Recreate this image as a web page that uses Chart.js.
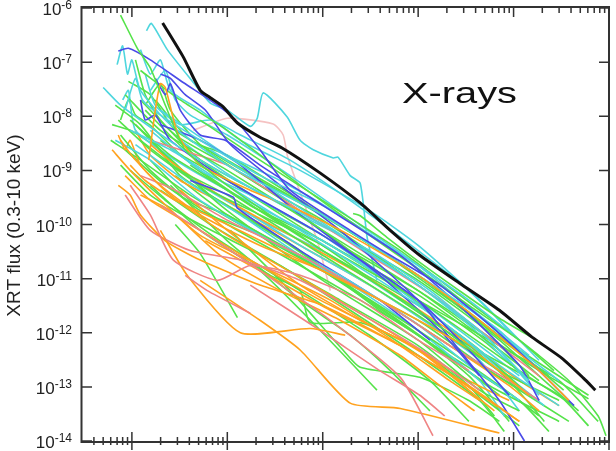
<!DOCTYPE html>
<html>
<head>
<meta charset="utf-8">
<script src="https://cdn.jsdelivr.net/npm/chart.js@4.4.1/dist/chart.umd.min.js"></script>
<style>
  html, body { margin: 0; padding: 0; background: #fff; }
  canvas { display: block; }
</style>
</head>
<body>
<canvas id="chart" width="616" height="451"></canvas>
<script>
// time (s) / flux (erg cm-2 s-1) pairs
const xMin = 30, xMax = 1e7;
const yMin = 1e-14, yMax = 1e-6;
const xMajorTicks = [1e2, 1e3, 1e4, 1e5, 1e6, 1e7];
const xMinorDecades = [10, 1e2, 1e3, 1e4, 1e5, 1e6];
const yTickExponents = [-6, -7, -8, -9, -10, -11, -12, -13, -14];
const minorSteps = [2, 3, 4, 5, 6, 7, 8, 9];
const yTitle = 'XRT flux (0.3-10 keV)';
const bandLabel = 'X-rays';

const blackCurve = [[210,5.3e-7],[345,1.25e-7],[520,3e-8],[663,2.2e-8],[900,1.5e-8],[1277,7.5e-9],[2200,4.1e-9],[3750,2.6e-9],[9430,8.9e-10],[2.47e4,2.5e-10],[5.1e4,7.8e-11],[1.04e5,2.7e-11],[2.7e5,8.3e-12],[7.1e5,2.6e-12],[1.56e6,8.3e-13],[3.2e6,3.4e-13],[5.4e6,1.45e-13],[7.2e6,8.7e-14]];

const cyanFlare = [[142,3.8e-7],[160,5.2e-7],[235,1.7e-7],[440,4.2e-8],[663,1.75e-8],[1000,1.3e-8],[1740,6.5e-9],[2060,9.2e-9],[2380,2.7e-8],[4240,9.7e-9],[5800,3.6e-9],[7950,2.4e-9],[1.29e4,1.7e-9],[1.45e4,1.75e-9],[1.94e4,8e-10],[2.47e4,5.8e-10],[2.92e4,5.8e-11],[3.7e4,9.3e-12]];

const pinkFlare = [[440,5.5e-9],[1000,9.2e-9],[3020,7.2e-9],[3850,4.5e-9],[4300,1.75e-9],[8750,5e-11],[1.2e4,6e-12]];

const greenCurves = [
  [[76,7.4e-7],[114,1.8e-7],[156,7.8e-8],[224,1.6e-8],[362,2.4e-9],[1000,5.3e-10],[1e4,3.3e-11],[1e5,2.6e-12],[4.9e5,3.1e-13]],
  [[2.08e4,1.6e-10],[2.47e4,1.45e-10],[4.7e4,5.8e-11],[1.04e5,2e-11],[2.7e5,6e-12],[7.1e5,1.85e-12],[1.98e6,6.4e-13]],
  [[123,7e-8],[321,2e-8],[1000,5.5e-9],[5800,5.3e-10],[3.1e4,6.3e-11],[1e5,1.5e-11],[3.4e5,3.2e-12],[1.15e6,7.3e-13],[3.8e6,1.3e-13],[7.7e6,2.9e-14],[9.3e6,1.25e-14]],
  [[520,8.5e-9],[2200,1.55e-9],[1.2e4,2.25e-10],[6.5e4,3.3e-11],[2.7e5,5e-12],[1.15e6,7.3e-13],[2.65e6,2e-13]],
  [[85,2.5e-8],[199,5.5e-9],[1000,1e-9],[1e4,7.8e-11],[1e5,6e-12],[7.1e5,4.8e-13],[1.85e6,1.3e-13]],
  [[96,8.5e-9],[253,1.9e-9],[1000,4.3e-10],[1e4,3.3e-11],[1e5,3.2e-12],[4.4e5,4.8e-13],[1.45e6,7e-14]],
  [[123,3.6e-9],[321,1e-9],[1000,3.5e-10],[1e4,2.7e-11],[1e5,2.1e-12],[7.1e5,2e-13],[3e6,5.6e-14]],
  [[72,8.5e-9],[156,2.4e-9],[520,5.3e-10],[2200,1.5e-10],[1e4,4.1e-11],[1e5,4e-12],[1.15e6,2e-13],[4.3e6,4.5e-14]],
  [[76,4.5e-9],[156,1e-9],[520,1.8e-10],[2200,6.3e-11],[1e4,1.4e-11],[1e5,1.1e-12],[7.1e5,1.05e-13],[1.85e6,2.9e-14]],
  [[109,7e-9],[253,1.55e-9],[1000,1.8e-10],[1e4,9.3e-12],[1e5,7.3e-13],[4.4e5,8.7e-14],[1.15e6,3.6e-14]],
  [[138,1.3e-8],[362,2.4e-9],[1000,8e-10],[5800,1.5e-10],[3.1e4,1.75e-11],[1.69e5,1.7e-12],[9e5,1.3e-13],[2.1e6,2.3e-14]],
  [[199,3.6e-9],[520,1e-9],[2200,1.8e-10],[1e4,4.1e-11],[6.5e4,4e-12],[3.4e5,5.8e-13],[3e6,7e-14],[6.1e6,1.9e-14]],
  [[67,1.6e-8],[123,7e-9],[321,8e-10],[1000,2.25e-10],[5800,3.3e-11],[3.96e4,2.6e-12],[2.14e5,3.8e-13],[1.15e6,5.6e-14],[2.35e6,1.5e-14]],
  [[156,1.55e-9],[409,2.8e-10],[1000,1.5e-10],[1e4,1.4e-11],[1e5,9e-13],[3.4e5,1.6e-13],[9e5,2.3e-14]],
  [[85,2.4e-9],[224,5.3e-10],[1000,1e-10],[5800,1.75e-11],[2.47e4,4e-12],[1e5,9e-13],[5.6e5,1.05e-13],[3e6,2.3e-14]],
  [[253,5.3e-10],[1000,5e-11],[5800,4e-12],[1.94e4,9e-13],[5.1e4,2e-13],[1.33e5,3.6e-14]],
  [[285,1e-10],[520,2.9e-11],[1277,1.9e-12]],
  [[156,5.3e-10],[520,7.8e-11],[2200,1.4e-11],[9430,1.1e-12],[3.7e4,8.7e-14]],
  [[1075,3.3e-11],[2820,1.15e-11],[5800,6e-12],[7390,1.55e-12],[2.47e4,1.55e-12],[1.04e5,4.8e-13],[4.4e5,7e-14],[1.15e6,1.9e-14]],
  [[1075,7.8e-11],[4550,6e-12],[1.63e4,4.8e-13],[2.47e4,2.3e-13],[1.04e5,1.5e-13],[3.4e5,5.6e-14],[7.1e5,2.3e-14]],
  [[92,4.4e-8],[156,2.5e-8],[285,5.5e-9],[1000,1.55e-9],[1e4,1.5e-10],[1e5,1.15e-11],[4.4e5,1.7e-12],[1.45e6,3.1e-13],[3.35e6,8.7e-14]],
  [[123,2e-8],[285,4.5e-9],[1000,1.25e-9],[1e4,9.8e-11],[1e5,9.3e-12],[7.1e5,7.3e-13],[2.1e6,1.3e-13],[4.8e6,3.6e-14]],
  [[176,2e-8],[409,3.6e-9],[1000,1.9e-9],[5800,2.8e-10],[3.96e4,3.3e-11],[2.14e5,4e-12],[1.15e6,4.8e-13],[6.1e6,7e-14]],
  [[60,3.6e-9],[123,1.55e-9],[409,3.5e-10],[1740,7.8e-11],[1e4,1.4e-11],[1e5,1.7e-12],[5.6e5,2e-13],[1.85e6,5.6e-14]],
  [[199,4.3e-10],[663,1e-10],[3580,1.75e-11],[1.94e4,2.6e-12],[1e5,3.8e-13],[4.4e5,5.6e-14],[8e5,1.5e-14]],
  [[96,1e-9],[224,2.8e-10],[840,5e-11],[5800,6e-12],[3.1e4,9e-13],[1.33e5,1.3e-13],[3.4e5,2.3e-14]],
  [[409,1.25e-9],[1740,2.25e-10],[1e4,5e-11],[1e5,4e-12],[7.1e5,5.8e-13],[3e6,1.3e-13],[7.7e6,2.3e-14]],
  [[588,2.4e-9],[2200,5.3e-10],[1e4,1.2e-10],[1e5,7.6e-12],[4.4e5,1.1e-12],[1.85e6,2e-13],[6.1e6,6e-14]],
  [[76,1.25e-9],[156,3.5e-10],[520,1e-10],[2820,2.2e-11],[1.52e4,4e-12],[1e5,5.8e-13],[3.4e5,1.05e-13],[6.3e5,2.9e-14]],
  [[109,1.1e-7],[138,2.5e-8],[199,8.5e-9],[520,1.55e-9],[2200,2.8e-10],[1e4,6.3e-11],[1e5,6e-12],[7.1e5,5.8e-13],[1.45e6,1.6e-13]],
  [[62,7e-9],[96,5.5e-9],[199,2.4e-9],[663,3.5e-10],[4550,4.1e-11],[3.1e4,4e-12],[1.69e5,4.8e-13],[7.1e5,7e-14]],
  [[285,8e-10],[1000,1.5e-10],[5800,2.7e-11],[3.96e4,4e-12],[2.14e5,5.8e-13],[1.15e6,8.7e-14],[3.8e6,2.3e-14]],
  [[76,8.5e-9],[92,2e-8],[109,1.05e-8],[156,6.8e-9],[321,2e-9],[1000,6.5e-10],[1e4,5e-11],[1e5,5e-12],[5.6e5,5.8e-13],[1.45e6,1.3e-13]],
  [[138,1.6e-8],[199,4e-8],[253,1.3e-8],[520,3e-9],[2200,6.5e-10],[1.2e4,1.2e-10],[1e5,1.15e-11],[5.6e5,1.1e-12],[2.35e6,1.6e-13]]
];

const cyanCurves = [
  [[50,3.4e-8],[76,1.6e-8],[123,8.5e-9],[285,3e-9],[1000,8e-10],[1e4,9.8e-11],[1e5,7.6e-12],[4.4e5,1.1e-12],[1.45e6,1.3e-13]],
  [[70,9e-8],[80,2e-7],[90,6e-8],[100,1.1e-7],[123,3e-8],[253,7e-9],[1000,1.25e-9],[1e4,1.5e-10],[1e5,1.15e-11],[7.1e5,1.1e-12],[1.85e6,2e-13]],
  [[85,1.3e-8],[109,5e-8],[129,2e-8],[199,1.05e-8],[520,3.6e-9],[2200,8e-10],[1e4,2.25e-10],[1e5,1.75e-11],[3.4e5,4e-12],[1.15e6,7.3e-13]],
  [[123,1.7e-7],[156,6e-8],[199,1.1e-7],[253,3e-8],[520,1.3e-8],[1370,3.6e-9],[5800,1e-9],[3.1e4,1.8e-10],[1e5,4.1e-11],[4.4e5,4e-12],[1.85e6,3.1e-13]],
  [[96,5.5e-9],[253,2.4e-9],[1000,5.3e-10],[5800,7.8e-11],[3.96e4,9.3e-12],[1.69e5,1.7e-12],[7.1e5,2.5e-13],[3e6,4.5e-14]],
  [[67,3.6e-9],[156,1.55e-9],[520,2.8e-10],[2820,5e-11],[1.52e4,1.15e-11],[1e5,1.4e-12],[3.4e5,2.5e-13],[1.15e6,5.6e-14]],
  [[199,1.3e-8],[409,5.5e-9],[1000,1.9e-9],[3580,6.5e-10],[1.52e4,1.5e-10],[6.5e4,2.7e-11],[2.7e5,4e-12],[1.15e6,4.8e-13],[3e6,1.3e-13]],
  [[156,5.5e-9],[520,1e-9],[1740,3.5e-10],[1e4,6.3e-11],[6.5e4,6e-12],[2.7e5,9e-13],[1.15e6,1.05e-13],[2.1e6,4.5e-14]],
  [[321,3.6e-9],[1075,8e-10],[5800,1.5e-10],[3.1e4,3.3e-11],[1.33e5,6e-12],[5.6e5,7.3e-13],[1.85e6,7e-14]],
  [[253,1.25e-9],[1000,2.8e-10],[5800,4.1e-11],[3.1e4,7.6e-12],[1.33e5,1.4e-12],[4.4e5,3.1e-13],[1.15e6,3.6e-14]],
  [[138,6e-8],[176,1.6e-8],[321,7e-9],[663,8.5e-9],[1370,4.5e-9],[4550,1.55e-9],[1.94e4,2.8e-10],[1e5,3.3e-11],[3.4e5,6e-12],[9e5,1.1e-12]],
  [[109,3e-9],[362,6.5e-10],[1370,1.5e-10],[5800,2.7e-11],[2.47e4,6e-12],[1e5,1.1e-12],[4.4e5,1.3e-13],[8e5,2.9e-14]],
  [[520,5.3e-10],[2200,1.2e-10],[1.2e4,2.7e-11],[6.5e4,4e-12],[2.7e5,7.3e-13],[1.45e6,7e-14]],
  [[80,2e-8],[92,3e-8],[109,5.5e-9],[285,1.55e-9],[1000,4.3e-10],[1e4,5e-11],[1e5,4e-12],[4.4e5,5.8e-13],[1.15e6,1.6e-13]],
  [[663,2.4e-9],[3580,3.5e-10],[1.94e4,5e-11],[1e5,7.6e-12],[3.4e5,1.4e-12],[9.5e5,2.5e-13]],
  [[156,3e-8],[224,7e-8],[285,2e-8],[409,1.05e-8],[1000,4.5e-9],[4550,8e-10],[2.47e4,9.8e-11],[1e5,1.75e-11],[4.4e5,2.1e-12],[1.45e6,3.8e-13]]
];

const blueCurves = [
  [[72,1.6e-7],[92,1.8e-7],[156,1.1e-7],[345,4.2e-8],[786,1.6e-8],[1215,8.5e-9],[2200,2.4e-9],[4550,4.3e-10],[1.94e4,7.8e-11],[5.1e4,2.7e-11],[1.69e5,7.6e-12],[5.6e5,1.4e-12],[1.85e6,2e-13],[4.3e6,4.5e-14]],
  [[176,5e-8],[224,2.5e-8],[253,4e-8],[321,1.3e-8],[520,4.5e-9],[952,3.6e-9],[2200,1.25e-9],[1e4,2.25e-10],[6.5e4,2.7e-11],[2.7e5,3.2e-12],[1.15e6,2.5e-13],[1.85e6,5.6e-14]],
  [[199,6e-8],[253,5e-8],[362,2.5e-8],[588,1.3e-8],[1075,3e-9],[3580,5.3e-10],[1.52e4,7.8e-11],[1e5,4e-12],[2.7e5,4.8e-13],[7.1e5,5.6e-14],[1.3e6,1e-14]],
  [[123,2e-8],[138,8.5e-9],[176,1.05e-8],[253,3.6e-9],[1000,6.5e-10],[1e4,6.3e-11],[1e5,4e-12],[3.4e5,4.8e-13],[9e5,7e-14]],
  [[199,7e-9],[520,3.6e-9],[1370,1.25e-9],[5800,1.5e-10],[3.96e4,1.15e-11],[1.69e5,1.1e-12],[4.4e5,1.6e-13]],
  [[409,6.5e-10],[1155,3.2e-10],[1277,2e-10],[5800,3.3e-11],[3.96e4,4e-12],[1.33e5,7.3e-13]]
];

const orangeCurves = [
  [[150,1.55e-9],[176,1.3e-8],[199,4e-8],[224,3.4e-8],[306,4.5e-9],[520,1.25e-9],[1740,4.3e-10],[5800,1.8e-10],[1.94e4,6.3e-11],[1e5,1.15e-11],[4.4e5,1.7e-12],[1.85e6,2e-13],[3.8e6,5.6e-14]],
  [[76,3.6e-9],[109,1.55e-9],[199,5.3e-10],[520,1.5e-10],[2200,4.1e-11],[1e4,1.4e-11],[1e5,1.7e-12],[4.4e5,3.8e-13],[1.45e6,7e-14]],
  [[72,5.3e-10],[96,3.5e-10],[123,1.5e-10],[224,5e-11],[520,2.2e-11],[2200,7.6e-12],[1e4,3.2e-12],[6.5e4,5.8e-13],[3.4e5,1.05e-13],[1.15e6,2.3e-14]],
  [[199,7.8e-11],[380,1.15e-11],[1370,1e-12],[7390,1.2e-12],[1.72e4,9e-13]],
  [[520,9.3e-12],[2200,1.7e-12],[5800,4.8e-13],[1.94e4,5e-14],[6.5e4,4e-14],[7.1e5,1.4e-14]],
  [[96,1.25e-9],[138,6.5e-10],[285,2.8e-10],[1000,1e-10],[5800,2.2e-11],[3.96e4,4e-12],[2.14e5,5.8e-13],[9e5,1.05e-13],[1.85e6,3.6e-14]],
  [[62,2.4e-9],[96,1e-9],[199,2.8e-10],[520,6.3e-11],[2200,1.75e-11],[1.2e4,4e-12],[6.5e4,5.8e-13],[2.14e5,1.3e-13],[4.4e5,5.6e-14]],
  [[123,3.5e-10],[253,1.8e-10],[840,2.7e-11],[3580,6e-12],[1.52e4,1.7e-12],[6.5e4,3.8e-13],[1.69e5,1.05e-13],[3.9e5,3.6e-14]],
  [[156,3e-9],[285,1.25e-9],[1000,2.8e-10],[5800,5e-11],[3.96e4,7.6e-12],[2.14e5,1.1e-12],[1.15e6,1.3e-13],[3e6,4.5e-14]],
  [[321,4.3e-10],[1000,7.8e-11],[5800,7.6e-12],[2.47e4,1.7e-12],[1.04e5,4.8e-13],[3.4e5,8.7e-14],[6.3e5,3.6e-14]],
  [[85,8e-10],[156,2.8e-10],[409,1e-10],[1740,2.2e-11],[9430,4e-12],[6.5e4,7.3e-13],[3.4e5,1.3e-13],[9e5,5.6e-14]],
  [[588,5e-11],[2200,1.4e-11],[1.2e4,2.6e-12],[6.5e4,5.8e-13],[2.7e5,1.3e-13],[1.15e6,2.3e-14]],
  [[72,4.5e-9],[85,2.4e-9],[96,3.6e-9],[123,1.25e-9],[253,3.5e-10],[1000,6.3e-11],[1e4,6e-12],[1e5,4.8e-13],[3.4e5,8.7e-14]],
  [[109,5.5e-9],[156,1.9e-9],[321,6.5e-10],[1000,2.25e-10],[5800,4.1e-11],[3.1e4,7.6e-12],[1.69e5,1.1e-12],[7.1e5,2e-13],[1.45e6,7e-14]]
];

const salmonCurves = [
  [[96,5.3e-10],[156,1.5e-10],[272,2.2e-11],[786,9.3e-12],[1740,1.75e-11],[5800,1.15e-11],[2.47e4,4e-12],[1e5,7.3e-13],[3.4e5,2e-13]],
  [[362,1.15e-11],[617,6e-12],[1740,2.3e-12]],
  [[85,3.5e-10],[156,7.8e-11],[409,3.3e-11],[1370,2.2e-11],[5800,9.3e-12],[3.96e4,1.4e-12],[1.33e5,3.8e-13],[4.4e5,8.7e-14]],
  [[199,2.25e-10],[520,7.8e-11],[2200,1.4e-11],[1.2e4,1.7e-12],[6.5e4,1.5e-13],[1.43e5,1.25e-14]],
  [[123,8e-10],[285,4.3e-10],[1000,1.2e-10],[5800,2.7e-11],[3.96e4,4e-12],[2.14e5,5.8e-13],[9e5,1.3e-13],[1.85e6,5.6e-14]],
  [[1740,7.6e-12],[9430,1.1e-12],[3.96e4,2e-13],[1.04e5,7e-14],[1.9e5,2.9e-14]],
  [[156,3.6e-9],[321,2.4e-9],[1000,1.25e-9],[5800,1.8e-10],[3.1e4,2.7e-11],[1.69e5,4e-12],[7.1e5,5.8e-13],[1.85e6,1.6e-13]]
];

const FONT = "'Liberation Sans', Arial, Helvetica, sans-serif";

function lineSet(data, color, width) {
  return { data, borderColor: color, borderWidth: width, pointRadius: 0, fill: false };
}

// mix the colour families so no single one sits on top of everything
const families = [
  { curves: greenCurves, color: '#55e34a' },
  { curves: cyanCurves, color: '#4fd6de' },
  { curves: orangeCurves, color: '#ffa21f' },
  { curves: blueCurves, color: '#4a4ae8' },
  { curves: salmonCurves, color: '#ef8484' }
];
const datasets = [lineSet(blackCurve, '#111111', 3)];
const longest = Math.max(...families.map(f => f.curves.length));
for (let i = 0; i < longest; i++) {
  families.forEach(f => {
    if (f.curves[i]) datasets.push(lineSet(f.curves[i], f.color, 1.6));
  });
}
datasets.push(lineSet(cyanFlare, '#4fd6de', 1.6));
datasets.push(lineSet(pinkFlare, '#f5c2c2', 1.6));

const frame = {
  id: 'frame',
  afterDraw(chart) {
    const { ctx, chartArea: a, scales: { x, y } } = chart;
    ctx.save();
    ctx.strokeStyle = '#333';
    ctx.lineWidth = 2;
    ctx.beginPath();
    ctx.moveTo(a.left - 0.5, a.top - 1);
    ctx.lineTo(a.right, a.top - 1);
    ctx.lineTo(a.right, a.bottom + 1);
    ctx.lineTo(a.left - 0.5, a.bottom + 1);
    ctx.closePath();
    ctx.stroke();

    ctx.lineWidth = 1.5;
    ctx.beginPath();
    // y ticks, left and right
    yTickExponents.forEach(e => {
      const py = y.getPixelForValue(Math.pow(10, e));
      ctx.moveTo(a.left, py); ctx.lineTo(a.left + 10, py);
      ctx.moveTo(a.right - 10, py); ctx.lineTo(a.right, py);
      if (e > -6) {
        minorSteps.forEach(m => {
          const my = y.getPixelForValue(m * Math.pow(10, e));
          ctx.moveTo(a.left, my); ctx.lineTo(a.left + 5, my);
          ctx.moveTo(a.right - 5, my); ctx.lineTo(a.right, my);
        });
      }
    });
    // x ticks, bottom and top
    xMajorTicks.forEach(v => {
      const px = x.getPixelForValue(v);
      ctx.moveTo(px, a.bottom - 9); ctx.lineTo(px, a.bottom + 9);
      ctx.moveTo(px, a.top - 1); ctx.lineTo(px, a.top + 9);
    });
    xMinorDecades.forEach(d => {
      minorSteps.forEach(m => {
        const v = m * d;
        if (v <= xMin || v >= xMax) return;
        const px = x.getPixelForValue(v);
        ctx.moveTo(px, a.bottom - 4); ctx.lineTo(px, a.bottom + 4);
        ctx.moveTo(px, a.top - 1); ctx.lineTo(px, a.top + 5);
      });
    });
    ctx.stroke();

    // y tick labels as 10 with a raised exponent
    ctx.fillStyle = '#222';
    ctx.textBaseline = 'alphabetic';
    ctx.textAlign = 'left';
    yTickExponents.forEach(e => {
      const py = y.getPixelForValue(Math.pow(10, e));
      const right = a.left - 10;
      ctx.font = '12px ' + FONT;
      const exp = String(e);
      const ew = ctx.measureText(exp).width;
      ctx.fillText(exp, right - ew, py + 1);
      ctx.font = '17px ' + FONT;
      const bw = ctx.measureText('10').width;
      ctx.fillText('10', right - ew - bw, py + 7);
    });

    // axis title
    ctx.save();
    ctx.font = '19px ' + FONT;
    ctx.textAlign = 'center';
    ctx.translate(20, (a.top + a.bottom) / 2 + 1);
    ctx.rotate(-Math.PI / 2);
    ctx.fillText(yTitle, 0, 0);
    ctx.restore();

    // band label
    ctx.save();
    ctx.font = '30px ' + FONT;
    ctx.fillStyle = '#111';
    const w = ctx.measureText(bandLabel).width;
    ctx.translate(402, 103);
    ctx.scale(115 / w, 1);
    ctx.fillText(bandLabel, 0, 0);
    ctx.restore();

    ctx.restore();
  }
};

new Chart(document.getElementById('chart'), {
  type: 'line',
  data: { datasets },
  options: {
    responsive: false,
    animation: false,
    devicePixelRatio: 1,
    layout: { padding: { left: 82, right: 7, top: 8, bottom: 10 } },
    plugins: { legend: { display: false }, tooltip: { enabled: false } },
    elements: { line: { tension: 0.2 }, point: { radius: 0 } },
    scales: {
      x: { type: 'logarithmic', min: xMin, max: xMax, display: false },
      y: { type: 'logarithmic', min: yMin, max: yMax, display: false }
    }
  },
  plugins: [frame]
});
</script>
</body>
</html>
